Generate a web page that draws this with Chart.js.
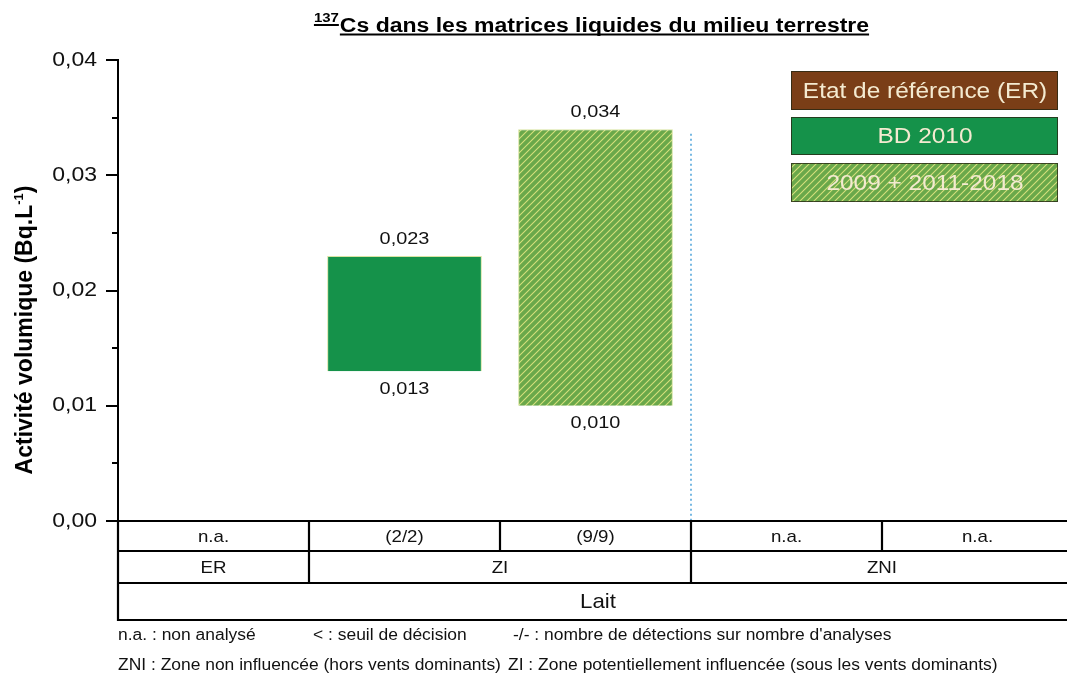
<!DOCTYPE html>
<html>
<head>
<meta charset="utf-8">
<script src="https://cdn.jsdelivr.net/npm/chart.js@4.4.1/dist/chart.umd.min.js"></script>
<style>
  html, body { margin: 0; background: #fff; overflow: hidden; }
</style>
</head>
<body>
<canvas id="myChart" width="1073" height="680"></canvas>
<script>
const categories = ['ER', 'ZI', 'ZI', 'ZNI', 'ZNI'];
const analyses = ['n.a.', '(2/2)', '(9/9)', 'n.a.', 'n.a.'];
const zoneLabels = ['ER', 'ZI', 'ZNI'];
const zoneSpans = [1, 2, 2];
const matrixLabel = 'Lait';
const er = [null, null, null, null, null];
const bd2010 = [null, [0.013, 0.023], null, null, null];
const suivi = [null, null, [0.010, 0.034], null, null];
const separatorTop = 0.0336;
const yTicks = [0, 0.01, 0.02, 0.03, 0.04];
const yMinorTicks = [0.005, 0.015, 0.025, 0.035];
const footnotes = [
  [['n.a. : non analysé', 118], ['< : seuil de décision', 313], ["-/- : nombre de détections sur nombre d'analyses", 513]],
  [['ZNI : Zone non influencée (hors vents dominants)', 118], ['ZI : Zone potentiellement influencée (sous les vents dominants)', 508]]
];

const FONT = "'Liberation Sans', Arial, sans-serif";
Chart.defaults.font.family = FONT;

// motif hachuré vert / jaune
function hatch() {
  const c = document.createElement('canvas');
  c.width = 7; c.height = 7;
  const g = c.getContext('2d');
  g.fillStyle = '#6aa84a';
  g.fillRect(0, 0, 7, 7);
  g.strokeStyle = '#d5e07c';
  g.lineWidth = 1.1;
  g.beginPath();
  g.moveTo(-1, 8); g.lineTo(8, -1);
  g.moveTo(-1, 1); g.lineTo(1, -1);
  g.moveTo(6, 8); g.lineTo(8, 6);
  g.stroke();
  return g.createPattern(c, 'repeat');
}
const hatchFill = hatch();

const fmt = (v, d) => v.toFixed(d).replace('.', ',');

// texte un peu élargi comme sur l'original
function txt(ctx, s, x, y, font, sx, align) {
  ctx.save();
  ctx.translate(x, y);
  ctx.scale(sx, 1);
  ctx.font = font;
  ctx.textAlign = align || 'center';
  ctx.fillText(s, 0, 0);
  ctx.restore();
}

const decor = {
  id: 'decor',
  afterDraw(chart) {
    const ctx = chart.ctx;
    const x = chart.scales.x, y = chart.scales.y;
    const area = chart.chartArea;
    const n = categories.length;
    const step = (x.right - x.left) / n;
    const edge = i => x.left + step * i;
    ctx.save();
    ctx.textBaseline = 'middle';

    // graduations : libellés et petites marques
    ctx.fillStyle = '#111';
    yTicks.forEach(v => txt(ctx, fmt(v, 2), 97, y.getPixelForValue(v), '20px ' + FONT, 1.15, 'right'));
    ctx.strokeStyle = '#000';
    ctx.lineWidth = 2;
    yMinorTicks.forEach(v => {
      const py = Math.round(y.getPixelForValue(v));
      ctx.beginPath(); ctx.moveTo(area.left - 6, py); ctx.lineTo(area.left, py); ctx.stroke();
    });

    // séparateur pointillé ZI / ZNI
    ctx.strokeStyle = '#3d9ad6';
    ctx.lineWidth = 1.4;
    ctx.setLineDash([2, 3]);
    const sx = (x.getPixelForValue(2) + x.getPixelForValue(3)) / 2;
    ctx.beginPath(); ctx.moveTo(sx, y.getPixelForValue(separatorTop)); ctx.lineTo(sx, y.getPixelForValue(0)); ctx.stroke();
    ctx.setLineDash([]);

    // valeurs min / max des barres
    ctx.fillStyle = '#111';
    chart.data.datasets.forEach((ds, di) => {
      chart.getDatasetMeta(di).data.forEach((bar, i) => {
        const v = ds.data[i];
        if (!v) return;
        txt(ctx, fmt(v[1], 3), bar.x, bar.y - 17, '17px ' + FONT, 1.17);
        txt(ctx, fmt(v[0], 3), bar.x, bar.base + 18, '17px ' + FONT, 1.17);
      });
    });

    // tableau sous l'axe
    const t0 = y.getPixelForValue(0);
    const r1 = t0 + 30, r2 = r1 + 32, r3 = r2 + 37;
    const right = chart.width;
    ctx.strokeStyle = '#000';
    ctx.lineWidth = 2.2;
    ctx.beginPath();
    [t0, r1, r2, r3].forEach(ry => { ctx.moveTo(area.left - 1, ry); ctx.lineTo(right, ry); });
    ctx.moveTo(area.left, t0 - 1); ctx.lineTo(area.left, r3 + 1);
    for (let i = 1; i < n; i++) { ctx.moveTo(edge(i), t0); ctx.lineTo(edge(i), r1); }
    let acc = 0;
    zoneSpans.forEach((s, k) => {
      acc += s;
      if (k < zoneSpans.length - 1) { ctx.moveTo(edge(acc), r1); ctx.lineTo(edge(acc), r2); }
    });
    ctx.stroke();

    ctx.fillStyle = '#111';
    analyses.forEach((a, i) => txt(ctx, a, x.getPixelForValue(i), (t0 + r1) / 2 + 1, '17px ' + FONT, 1.1));
    acc = 0;
    zoneLabels.forEach((z, k) => {
      const a = edge(acc), b = edge(acc + zoneSpans[k]);
      acc += zoneSpans[k];
      txt(ctx, z, (a + b) / 2, (r1 + r2) / 2 + 1, '17px ' + FONT, 1.1);
    });
    txt(ctx, matrixLabel, 598, (r2 + r3) / 2 + 1, '21px ' + FONT, 1.06);

    // légende en cartouches
    const leg = [[791, 71, 39], [791, 117, 38], [791, 163, 39]];
    chart.data.datasets.forEach((ds, di) => {
      const [lx, ly, lh] = leg[di];
      ctx.fillStyle = ds.legendFill;
      ctx.fillRect(lx, ly, 267, lh);
      ctx.strokeStyle = 'rgba(40,40,20,0.8)';
      ctx.lineWidth = 1;
      ctx.strokeRect(lx + 0.5, ly + 0.5, 266, lh - 1);
      ctx.fillStyle = '#f4ead0';
      txt(ctx, ds.label, lx + 134, ly + lh / 2 + 1, '22px ' + FONT, 1.11);
    });

    // titre
    ctx.fillStyle = '#000';
    ctx.strokeStyle = '#000';
    ctx.textBaseline = 'alphabetic';
    const tsx = 1.15;
    ctx.font = 'bold 13px ' + FONT;
    const sup = '137', ws = ctx.measureText(sup).width * tsx;
    ctx.font = 'bold 20px ' + FONT;
    const main = 'Cs dans les matrices liquides du milieu terrestre', wm = ctx.measureText(main).width * tsx;
    const tx = 591 - (ws + wm) / 2;
    txt(ctx, sup, tx, 22, 'bold 13px ' + FONT, tsx, 'left');
    txt(ctx, main, tx + ws + 1, 31.5, 'bold 20px ' + FONT, tsx, 'left');
    ctx.lineWidth = 1.8;
    ctx.beginPath();
    ctx.moveTo(tx, 25); ctx.lineTo(tx + ws, 25);
    ctx.moveTo(tx + ws + 1, 34.5); ctx.lineTo(tx + ws + 1 + wm, 34.5);
    ctx.stroke();

    // titre de l'axe Y
    ctx.save();
    ctx.translate(32, 330);
    ctx.rotate(-Math.PI / 2);
    const p1 = 'Activité volumique (Bq.L', p2 = '-1', p3 = ')';
    ctx.font = 'bold 23px ' + FONT;
    const w1 = ctx.measureText(p1).width, w3 = ctx.measureText(p3).width;
    ctx.font = 'bold 13px ' + FONT;
    const w2 = ctx.measureText(p2).width;
    const ox = -(w1 + w2 + w3) / 2;
    ctx.textAlign = 'left';
    ctx.font = 'bold 23px ' + FONT;
    ctx.fillText(p1, ox, 0);
    ctx.font = 'bold 13px ' + FONT;
    ctx.fillText(p2, ox + w1, -9);
    ctx.font = 'bold 23px ' + FONT;
    ctx.fillText(p3, ox + w1 + w2, 0);
    ctx.restore();

    // notes de bas de page
    ctx.fillStyle = '#111';
    ctx.textBaseline = 'middle';
    footnotes.forEach((line, li) => {
      line.forEach(([s, fx]) => txt(ctx, s, fx, 636 + li * 30, '16px ' + FONT, 1.09, 'left'));
    });
    ctx.restore();
  }
};

const config = {
  type: 'bar',
  data: {
    labels: categories,
    datasets: [
      { label: 'Etat de référence (ER)', data: er, backgroundColor: '#7a3e17', legendFill: '#7a3e17' },
      { label: 'BD 2010', data: bd2010, backgroundColor: '#15924a', borderColor: '#d8e4a2', borderWidth: 1, legendFill: '#15924a' },
      { label: '2009 + 2011-2018', data: suivi, backgroundColor: hatchFill, borderColor: '#d8e4a2', borderWidth: 1, legendFill: hatchFill }
    ]
  },
  options: {
    responsive: false,
    animation: false,
    layout: { padding: { left: 0, top: 60, right: 0, bottom: 159 } },
    plugins: { legend: { display: false }, tooltip: { enabled: false } },
    datasets: { bar: { grouped: false, categoryPercentage: 1, barPercentage: 0.81 } },
    scales: {
      x: { display: false },
      y: {
        min: 0,
        max: 0.04,
        afterFit: s => { s.width = 118; },
        afterBuildTicks: s => { s.ticks = yTicks.map(v => ({ value: v })); },
        ticks: { display: false },
        grid: { drawOnChartArea: false, tickLength: 12, color: '#000', lineWidth: 2 },
        border: { color: '#000', width: 2 }
      }
    }
  },
  plugins: [decor]
};

const myChart = new Chart(document.getElementById('myChart'), config);
</script>
</body>
</html>
